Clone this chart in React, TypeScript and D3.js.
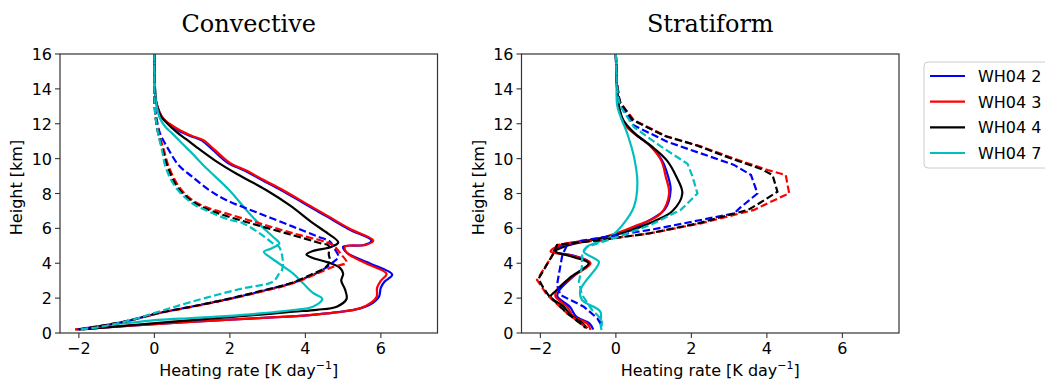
import React from "react";
import * as d3 from "d3";

type P = [number, number]; // [heating rate, height]

const seriesNames = ["WH04 2", "WH04 3", "WH04 4", "WH04 7"];
const seriesColors = ["#0000ff", "#ff0000", "#000000", "#00bfbf"];
const panelTitles = ["Convective", "Stratiform"];
const xTicks = [-2, 0, 2, 4, 6];
const yTicks = [0, 2, 4, 6, 8, 10, 12, 14, 16];

// ---- Convective, solid ----
const convSolid2: P[] = [[0,16],[0.01,14.5],[0.03,13.5],[0.08,13],[0.2,12.4],[0.38,12],[0.65,11.6],[0.95,11.3],[1.25,11.05],[1.55,10.5],[1.95,9.75],[2.4,9.3],[2.85,8.77],[3.35,8.2],[3.95,7.45],[4.55,6.7],[5.15,5.95],[5.75,5.3],[5.55,5.05],[5.0,4.95],[5.1,4.6],[5.7,4.0],[6.3,3.35],[6.1,2.95],[6.0,2.6],[5.95,2.08],[5.8,1.75],[5.45,1.41],[4.8,1.18],[4.11,1.03],[3.0,0.88],[1.89,0.75],[0.11,0.52],[-1.66,0.27],[-2.0,0.21]];
const convSolid3: P[] = [[0,16],[0.01,14.5],[0.03,13.5],[0.08,13],[0.2,12.4],[0.4,12],[0.7,11.6],[1.0,11.3],[1.3,11.05],[1.6,10.5],[2.0,9.75],[2.45,9.3],[2.9,8.77],[3.4,8.2],[4.0,7.45],[4.6,6.7],[5.2,5.95],[5.8,5.3],[5.6,5.05],[5.05,4.95],[5.1,4.6],[5.6,4.0],[6.15,3.4],[6.0,3.0],[5.9,2.6],[5.89,2.08],[5.75,1.75],[5.45,1.41],[4.8,1.18],[4.11,1.03],[3.0,0.88],[1.89,0.75],[0.11,0.52],[-1.66,0.27],[-2.1,0.2]];
const convSolid4: P[] = [[0,16],[0.01,14.5],[0.03,13.5],[0.07,13],[0.18,12.4],[0.35,12],[0.6,11.5],[0.85,11.1],[1.09,10.7],[1.6,9.9],[2.2,9.1],[2.96,8.2],[3.6,7.3],[4.2,6.3],[4.6,5.7],[4.87,5.2],[4.7,4.95],[4.2,4.7],[4.03,4.5],[4.2,4.3],[4.6,4.05],[4.91,3.75],[5.0,3.4],[4.95,3.0],[5.05,2.5],[5.09,1.95],[4.83,1.51],[4.3,1.33],[3.67,1.22],[2.8,1.05],[1.89,0.9],[0.5,0.65],[-0.5,0.47],[-1.3,0.32],[-1.9,0.2]];
const convSolid7: P[] = [[0,16],[0.01,14.5],[0.03,13.5],[0.06,13],[0.15,12.3],[0.3,11.8],[0.47,11.45],[0.72,10.9],[1.0,10.3],[1.4,9.4],[1.98,8.2],[2.51,6.87],[2.85,6.1],[3.14,5.52],[3.31,5.14],[3.1,4.85],[2.9,4.66],[3.1,4.3],[3.36,3.9],[3.67,3.42],[3.94,2.85],[4.2,2.3],[4.45,1.95],[4.2,1.51],[3.67,1.32],[2.8,1.12],[1.89,0.97],[1.0,0.86],[0.11,0.75],[-0.6,0.6],[-1.22,0.46],[-1.66,0.27]];

// ---- Convective, dashed ----
const convDash2: P[] = [[0,16],[0,14],[0.01,13],[0.05,12.4],[0.15,11.45],[0.38,10.5],[0.65,9.6],[1.0,8.97],[1.45,8.2],[1.9,7.63],[2.78,6.86],[3.67,6.1],[4.3,5.55],[4.65,5.24],[4.75,4.9],[4.87,4.38],[4.7,4.0],[4.4,3.55],[4.1,3.25],[3.67,2.88],[2.8,2.38],[1.9,1.92],[1.0,1.52],[0.12,1.14],[-0.77,0.66],[-1.5,0.38],[-2.05,0.2]];
const convDash3: P[] = [[0,16],[0,14],[0.01,13],[0.03,12.4],[0.12,11.45],[0.25,10.5],[0.38,9.54],[0.65,8.4],[1.0,7.63],[1.45,7.15],[1.9,6.86],[2.78,6.29],[3.67,5.72],[4.56,5.2],[4.75,5.0],[4.95,4.5],[5.09,4.05],[4.74,3.8],[4.3,3.4],[3.67,2.85],[2.8,2.35],[1.9,1.9],[1.0,1.5],[0.12,1.13],[-0.77,0.65],[-1.5,0.38],[-2.1,0.2]];
const convDash4: P[] = [[0,16],[0,14],[0.01,13],[0.03,12.4],[0.1,11.45],[0.22,10.5],[0.35,9.54],[0.6,8.4],[0.95,7.63],[1.4,7.1],[1.85,6.75],[2.7,6.2],[3.6,5.65],[4.4,5.15],[4.62,5.0],[4.62,4.5],[4.65,4.1],[4.5,3.7],[4.2,3.4],[3.67,2.9],[2.8,2.4],[1.9,1.93],[1.0,1.52],[0.12,1.15],[-0.77,0.67],[-1.5,0.38],[-2.0,0.2]];
const convDash7: P[] = [[0,16],[0,14],[0.01,13],[0.03,12.4],[0.1,11.45],[0.2,10.5],[0.3,9.5],[0.55,8.4],[1.0,7.44],[1.45,6.96],[1.98,6.5],[2.34,6.3],[2.8,5.7],[3.14,5.14],[3.3,4.95],[3.4,4.2],[3.38,3.6],[3.31,3.42],[3.14,2.94],[2.34,2.56],[1.0,1.8],[0.11,1.22],[-0.77,0.65],[-1.5,0.33],[-2.0,0.2]];

// ---- Stratiform, solid ----
const stratSolid2: P[] = [[0,16],[0.02,14.5],[0.05,13.5],[0.08,13],[0.2,12.1],[0.46,11.5],[0.9,10.75],[1.22,9.9],[1.38,9.0],[1.45,8.2],[1.3,7.1],[0.6,6.15],[-0.35,5.45],[-1.4,5.05],[-1.65,4.67],[-1.15,4.45],[-0.7,4.05],[-1.1,3.3],[-1.5,2.45],[-1.55,2.1],[-1.22,1.5],[-1.05,0.94],[-0.7,0.55],[-0.6,0.2]];
const stratSolid3: P[] = [[0,16],[0.02,14.5],[0.05,13.5],[0.08,13],[0.21,12.0],[0.48,11.45],[0.92,10.7],[1.2,9.9],[1.32,8.97],[1.41,8.0],[1.19,6.86],[0.48,6.1],[-0.41,5.43],[-1.47,5.05],[-1.73,4.67],[-1.2,4.45],[-0.67,4.0],[-1.1,3.3],[-1.56,2.47],[-1.6,2.1],[-1.29,1.5],[-1.12,0.94],[-0.76,0.55],[-0.67,0.17]];
const stratSolid4: P[] = [[0,16],[0.02,14.5],[0.05,13.5],[0.08,13],[0.2,12.2],[0.5,11.45],[0.95,10.7],[1.35,9.9],[1.6,8.97],[1.76,8.0],[1.5,7.0],[1.0,6.4],[0.2,5.75],[-0.6,5.35],[-1.3,5.0],[-1.6,4.68],[-1.2,4.4],[-0.72,4.0],[-1.2,3.2],[-1.6,2.4],[-1.73,2.08],[-1.38,1.51],[-1.2,1.03],[-0.9,0.6],[-0.76,0.27]];
const stratSolid7: P[] = [[0,16],[0.02,14.5],[0.04,13],[0.3,11.45],[0.48,10.1],[0.57,8.6],[0.48,7.25],[0.21,6.29],[-0.14,5.53],[-0.76,4.95],[-0.85,4.66],[-0.45,4.09],[-0.5,3.8],[-0.94,2.47],[-0.9,1.9],[-0.41,1.22],[-0.41,0.55],[-0.38,0.17]];

// ---- Stratiform, dashed ----
const stratDash2: P[] = [[0,16],[0.02,14.5],[0.08,13.5],[0.12,13.1],[0.48,11.9],[1.36,10.97],[2.25,10.3],[3.13,9.64],[3.58,9.06],[3.75,8.0],[3.3,7.2],[3.13,6.86],[2.25,6.48],[1.0,5.95],[0,5.6],[-0.9,5.3],[-1.29,5.05],[-1.42,4.46],[-1.56,2.75],[-1.47,2.18],[-0.85,1.51],[-0.49,0.84],[-0.41,0.55]];
const stratDash3: P[] = [[0,16],[0.02,14.5],[0.08,13.5],[0.12,13.2],[0.48,12.2],[1.36,11.26],[2.25,10.7],[3.13,10.0],[4.02,9.35],[4.5,9.06],[4.59,8.01],[4.02,7.44],[3.66,7.06],[3.13,6.77],[2.25,6.29],[0.92,5.72],[-0.41,5.33],[-1.56,5.05],[-1.65,4.57],[-2.09,3.04],[-1.97,2.66],[-1.82,2.18],[-1.29,1.13],[-0.76,0.27]];
const stratDash4: P[] = [[0,16],[0.02,14.5],[0.08,13.5],[0.12,13.2],[0.45,12.2],[1.3,11.3],[2.15,10.75],[3.0,10.05],[3.85,9.4],[4.15,9.06],[4.28,8.1],[3.8,7.44],[3.5,7.06],[3.0,6.77],[2.2,6.3],[0.9,5.72],[-0.41,5.33],[-1.56,5.05],[-1.65,4.57],[-2.05,3.1],[-1.95,2.7],[-1.8,2.2],[-1.3,1.15],[-0.8,0.3]];
const stratDash7: P[] = [[0,16],[0.02,14.5],[0.06,13.5],[0.12,13],[0.48,11.8],[1.19,10.7],[1.9,9.7],[2.03,8.97],[2.16,8.0],[1.72,7.06],[0.92,6.2],[0.04,5.5],[-0.76,4.95],[-0.89,4.57],[-0.9,3.8],[-0.98,2.94],[-0.9,2.2],[-0.63,1.32],[-0.36,0.75],[-0.38,0.36]];

const convSolids = [convSolid2, convSolid3, convSolid4, convSolid7];
const convDashes = [convDash2, convDash3, convDash4, convDash7];
const stratSolids = [stratSolid2, stratSolid3, stratSolid4, stratSolid7];
const stratDashes = [stratDash2, stratDash3, stratDash4, stratDash7];

const W = 1045, H = 383;
const panelLefts = [60, 521.5];
const panelW = 377.5;
const top = 54, bottom = 333;

function Panel({ idx, solids, dashes, smoothDash }: { idx: number; solids: P[][]; dashes: P[][]; smoothDash: boolean }) {
  const left = panelLefts[idx];
  const x = d3.scaleLinear().domain([-2.5, 7.5]).range([left, left + panelW]);
  const y = d3.scaleLinear().domain([0, 16]).range([bottom, top]);
  const smooth = d3.line<P>().x(d => x(d[0])).y(d => y(d[1])).curve(d3.curveCatmullRom.alpha(0.5));
  const lin = d3.line<P>().x(d => x(d[0])).y(d => y(d[1]));
  const clipId = `clip${idx}`;
  const cx = left + panelW / 2;
  const font = "DejaVu Sans, sans-serif";
  return (
    <g>
      <defs>
        <clipPath id={clipId}>
          <rect x={left} y={top} width={panelW} height={bottom - top} />
        </clipPath>
      </defs>
      <text x={cx} y={32} textAnchor="middle" fontFamily="DejaVu Serif, serif" fontSize={24}>{panelTitles[idx]}</text>
      <g clipPath={`url(#${clipId})`}>
        {solids.map((s, i) => (
          <path key={"s" + i} d={smooth(s) || ""} fill="none" stroke={seriesColors[i]} strokeWidth={2.2} strokeLinejoin="round" />
        ))}
        {dashes.map((s, i) => (
          <path key={"d" + i} d={(smoothDash ? smooth(s) : lin(s)) || ""} fill="none" stroke={seriesColors[i]} strokeWidth={2.2} strokeDasharray="7.4,3.2" />
        ))}
      </g>
      <rect x={left} y={top} width={panelW} height={bottom - top} fill="none" stroke="#333" strokeWidth={1.2} />
      {xTicks.map(t => (
        <g key={"x" + t}>
          <line x1={x(t)} x2={x(t)} y1={bottom} y2={bottom + 5} stroke="#333" strokeWidth={1.1} />
          <text x={x(t)} y={bottom + 21} textAnchor="middle" fontFamily={font} fontSize={16}>{t < 0 ? "\u2212" + Math.abs(t) : String(t)}</text>
        </g>
      ))}
      {yTicks.map(t => (
        <g key={"y" + t}>
          <line x1={left - 5} x2={left} y1={y(t)} y2={y(t)} stroke="#333" strokeWidth={1.1} />
          <text x={left - 8} y={y(t) + 6} textAnchor="end" fontFamily={font} fontSize={16}>{t}</text>
        </g>
      ))}
      <text x={cx} y={376} textAnchor="middle" fontFamily={font} fontSize={16}>
        Heating rate [K day<tspan dy={-7} fontSize={11}>{"\u22121"}</tspan><tspan dy={7}>]</tspan>
      </text>
      <text transform={`translate(${left - 38},${(top + bottom) / 2 - 6}) rotate(-90)`} textAnchor="middle" fontFamily={font} fontSize={16}>Height [km]</text>
    </g>
  );
}

export default function App() {
  const legY = [76, 101.7, 127.3, 153];
  return (
    <svg width={W} height={H} style={{ position: "absolute", left: 0, top: 0, background: "#fff" }}>
      <rect x={0} y={0} width={W} height={H} fill="#fff" />
      <Panel idx={0} solids={convSolids} dashes={convDashes} smoothDash={true} />
      <Panel idx={1} solids={stratSolids} dashes={stratDashes} smoothDash={false} />
      <rect x={924} y={62} width={140} height={106} rx={4} fill="#fff" stroke="#cccccc" strokeWidth={1} />
      {seriesNames.map((n, i) => (
        <g key={n}>
          <line x1={930} x2={965} y1={legY[i]} y2={legY[i]} stroke={seriesColors[i]} strokeWidth={2.2} />
          <text x={978} y={legY[i] + 6} fontFamily="DejaVu Sans, sans-serif" fontSize={16}>{n}</text>
        </g>
      ))}
    </svg>
  );
}
